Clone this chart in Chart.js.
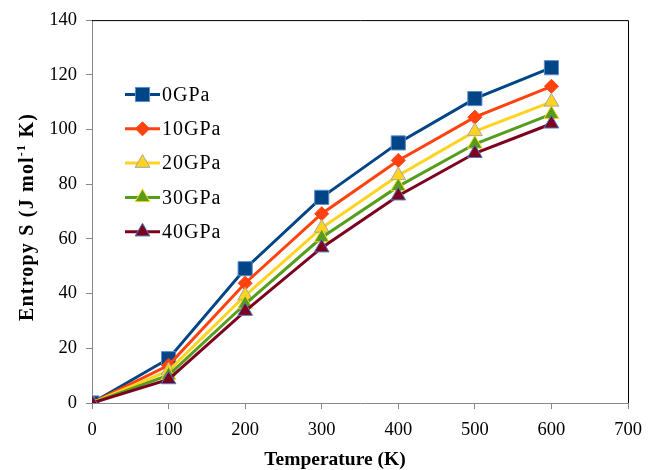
<!DOCTYPE html>
<html>
<head>
<meta charset="utf-8">
<script src="https://cdn.jsdelivr.net/npm/chart.js@4.4.1/dist/chart.umd.min.js"></script>
<style>
  body { margin: 0; background: #fff; }
  #wrap { width: 656px; height: 470px; }
</style>
</head>
<body>
<div id="wrap"><canvas id="entropyChart" width="656" height="470"></canvas></div>
<script>
// Entropy vs temperature at several pressures
const temperatures = [0, 100, 200, 300, 400, 500, 600];
const seriesNames = ['0GPa', '10GPa', '20GPa', '30GPa', '40GPa'];
const s0GPa  = [0, 16.2, 49.1, 75.2, 95.1, 111.3, 122.6];
const s10GPa = [0, 13.8, 43.8, 69.2, 88.7, 104.5, 115.8];
const s20GPa = [0, 11.8, 39.3, 64.0, 83.2, 99.3, 110.1];
const s30GPa = [0, 10.2, 36.2, 60.5, 79.2, 94.7, 105.6];
const s40GPa = [0, 8.6, 33.6, 56.8, 75.8, 91.3, 102.1];
const xTicks = [0, 100, 200, 300, 400, 500, 600, 700];
const yTicks = [0, 20, 40, 60, 80, 100, 120, 140];

const styles = [
    { line: '#004586', fill: '#004586', border: '#5b8ccc', shape: 'rect', r: 10 },
    { line: '#ff420e', fill: '#ff420e', border: '#ff420e', shape: 'rectRot', r: 7 },
    { line: '#ffd320', fill: '#ffd320', border: '#a6a6a6', shape: 'triangle', r: 8.5 },
    { line: '#579d1c', fill: '#579d1c', border: '#ffd320', shape: 'triangle', r: 8.5 },
    { line: '#7e0021', fill: '#7e0021', border: '#4a7ebb', shape: 'triangle', r: 8.5 }
];

const allValues = [s0GPa, s10GPa, s20GPa, s30GPa, s40GPa];

const datasets = allValues.map((vals, i) => ({
    label: seriesNames[i],
    data: vals.map((v, k) => ({ x: temperatures[k], y: v })),
    borderColor: styles[i].line,
    backgroundColor: styles[i].fill,
    borderWidth: 3,
    pointStyle: styles[i].shape,
    pointRadius: styles[i].r,
    pointBackgroundColor: styles[i].fill,
    pointBorderColor: styles[i].border,
    pointBorderWidth: 1,
    tension: 0,
    order: allValues.length - 1 - i
}));

const SERIF = "'Liberation Serif', 'Times New Roman', serif";

// frame, axis titles and the in-plot legend
const decorPlugin = {
    id: 'decor',
    afterDraw(chart) {
        const ctx = chart.ctx;
        const a = chart.chartArea;
        ctx.save();

        // black top / right edges of the plot box
        ctx.strokeStyle = '#000';
        ctx.lineWidth = 1;
        ctx.beginPath();
        ctx.moveTo(a.left, a.top + 0.5);
        ctx.lineTo(a.right + 0.5, a.top + 0.5);
        ctx.lineTo(a.right + 0.5, a.bottom);
        ctx.stroke();

        // x title
        ctx.fillStyle = '#000';
        ctx.font = 'bold 19.5px ' + SERIF;
        ctx.textAlign = 'center';
        ctx.textBaseline = 'middle';
        ctx.fillText('Temperature (K)', 335, 460);

        // y title with superscript
        ctx.save();
        ctx.translate(26, 217);
        ctx.rotate(-Math.PI / 2);
        ctx.letterSpacing = '1.2px';
        const p1 = 'Entropy S (J mol', sup = '-1', p2 = ' K)';
        ctx.font = 'bold 20px ' + SERIF;
        const w1 = ctx.measureText(p1).width, w3 = ctx.measureText(p2).width;
        ctx.font = 'bold 12px ' + SERIF;
        const w2 = ctx.measureText(sup).width;
        let x = -(w1 + w2 + w3) / 2;
        ctx.textAlign = 'left';
        ctx.textBaseline = 'alphabetic';
        ctx.font = 'bold 20px ' + SERIF;
        ctx.fillText(p1, x, 7);
        x += w1;
        ctx.font = 'bold 12px ' + SERIF;
        ctx.fillText(sup, x, -1);
        x += w2;
        ctx.font = 'bold 20px ' + SERIF;
        ctx.fillText(p2, x, 7);
        ctx.restore();

        // legend
        const lx = 125, lw = 35, ly = 94.5, step = 34.3;
        chart.data.datasets.forEach((ds, i) => {
            const y = ly + i * step;
            ctx.strokeStyle = ds.borderColor;
            ctx.lineWidth = 3;
            ctx.beginPath();
            ctx.moveTo(lx, y);
            ctx.lineTo(lx + lw, y);
            ctx.stroke();
            ctx.fillStyle = ds.pointBackgroundColor;
            ctx.strokeStyle = ds.pointBorderColor;
            ctx.lineWidth = 1;
            Chart.helpers.drawPoint(ctx, {
                pointStyle: ds.pointStyle,
                radius: ds.pointRadius,
                rotation: 0,
                borderWidth: 1
            }, lx + lw / 2, y);
            ctx.fillStyle = '#000';
            ctx.font = '20px ' + SERIF;
            ctx.letterSpacing = '1px';
            ctx.textAlign = 'left';
            ctx.textBaseline = 'middle';
            ctx.fillText(ds.label, lx + lw + 2, y + 1);
            ctx.letterSpacing = '0px';
        });
        ctx.restore();
    }
};

new Chart(document.getElementById('entropyChart'), {
    type: 'line',
    data: { datasets: datasets },
    options: {
        responsive: false,
        animation: false,
        layout: { padding: { top: 20, right: 28, left: 0, bottom: 0 } },
        plugins: {
            legend: { display: false },
            tooltip: { enabled: false }
        },
        scales: {
            x: {
                type: 'linear',
                min: xTicks[0],
                max: xTicks[xTicks.length - 1],
                afterBuildTicks: s => { s.ticks = xTicks.map(v => ({ value: v })); },
                afterFit: s => { s.height = 67; },
                grid: { drawOnChartArea: false, drawTicks: true, tickLength: 6, color: '#888' },
                border: { color: '#888', width: 1 },
                ticks: { color: '#000', font: { family: SERIF, size: 18.5 }, padding: 10, maxRotation: 0 }
            },
            y: {
                type: 'linear',
                min: yTicks[0],
                max: yTicks[yTicks.length - 1],
                afterBuildTicks: s => { s.ticks = yTicks.map(v => ({ value: v })); },
                afterFit: s => { s.width = 92; },
                grid: { drawOnChartArea: false, drawTicks: true, tickLength: 6, color: '#888' },
                border: { color: '#888', width: 1 },
                ticks: { color: '#000', font: { family: SERIF, size: 18.5 }, padding: 9 }
            }
        }
    },
    plugins: [decorPlugin]
});
</script>
</body>
</html>
